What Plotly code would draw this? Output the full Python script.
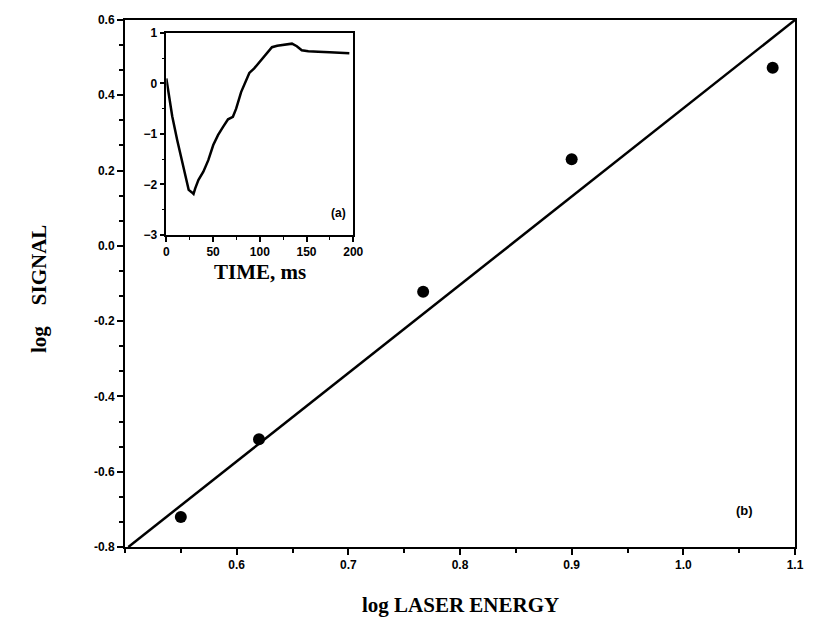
import plotly.graph_objects as go

# main panel (b) data
energy = [0.55, 0.62, 0.767, 0.90, 1.08]
signal = [-0.72, -0.514, -0.122, 0.23, 0.473]
fit_x = [0.503, 1.10]
fit_y = [-0.80, 0.60]

# inset (a) data
time_ms = [0, 2.8, 6.3, 11.6, 16.8, 22.1, 23.9, 27.4, 29.1, 30.9, 34.4, 39.6, 44.9,
           50.2, 55.4, 60.7, 66.0, 71.2, 74.7, 80.0, 83.5, 88.8, 94.0, 101, 108, 113,
           118.6, 125.6, 134.4, 139.6, 144.9, 151.9, 157, 162.5, 174.7, 185, 195.8]
trace_a = [0.10, -0.26, -0.65, -1.12, -1.52, -1.91, -2.11, -2.16, -2.19, -2.08, -1.91,
           -1.75, -1.52, -1.22, -1.02, -0.86, -0.71, -0.66, -0.50, -0.17, -0.03, 0.21,
           0.30, 0.45, 0.62, 0.72, 0.75, 0.77, 0.79, 0.74, 0.66, 0.64, 0.64, 0.63, 0.62,
           0.61, 0.60]

main_ticks_x = [0.6, 0.7, 0.8, 0.9, 1.0, 1.1]
main_labels_x = ["0.6", "0.7", "0.8", "0.9", "1.0", "1.1"]
main_ticks_y = [-0.8, -0.6, -0.4, -0.2, 0.0, 0.2, 0.4, 0.6]
main_labels_y = ["-0.8", "-0.6", "-0.4", "-0.2", "0.0", "0.2", "0.4", "0.6"]
inset_ticks_x = [0, 50, 100, 150, 200]
inset_ticks_y = [-3, -2, -1, 0, 1]

tickfont = dict(family="Liberation Sans", size=12, color="black", weight="bold")
serif = "Liberation Serif"

fig = go.Figure()
fig.add_trace(go.Scatter(x=fit_x, y=fit_y, mode="lines",
                         line=dict(color="black", width=2.5), showlegend=False))
fig.add_trace(go.Scatter(x=energy, y=signal, mode="markers",
                         marker=dict(color="black", size=12), showlegend=False))
fig.add_trace(go.Scatter(x=time_ms, y=trace_a, mode="lines", xaxis="x2", yaxis="y2",
                         line=dict(color="black", width=2.5), showlegend=False))

fig.update_layout(
    width=815, height=624,
    margin=dict(l=125, r=10, t=20, b=77),
    paper_bgcolor="white", plot_bgcolor="white",
    xaxis=dict(range=[0.5, 1.1], tickvals=main_ticks_x, ticktext=main_labels_x,
               ticks="outside", ticklen=6, tickwidth=2, tickcolor="black",
               minor=dict(dtick=0.05, tick0=0.5, ticks="outside", ticklen=4, tickwidth=1.5, tickcolor="black"),
               showline=True, linecolor="black", linewidth=2, mirror=True,
               showgrid=False, zeroline=False, tickfont=tickfont),
    yaxis=dict(range=[-0.8, 0.6], tickvals=main_ticks_y, ticktext=main_labels_y,
               ticks="outside", ticklen=6, tickwidth=2, tickcolor="black",
               minor=dict(dtick=0.2 / 3, tick0=-0.8, ticks="outside", ticklen=4, tickwidth=1.5, tickcolor="black"),
               showline=True, linecolor="black", linewidth=2, mirror=True,
               showgrid=False, zeroline=False, tickfont=tickfont),
    xaxis2=dict(domain=[0.0617, 0.3407], anchor="y2", range=[0, 200], tickvals=inset_ticks_x,
                ticks="outside", ticklen=5, tickwidth=1.5, tickcolor="black",
                minor=dict(dtick=25, ticks="outside", ticklen=3, tickwidth=1, tickcolor="black"),
                showline=True, linecolor="black", linewidth=1.5, mirror=True,
                showgrid=False, zeroline=False, tickfont=tickfont),
    yaxis2=dict(domain=[0.5925, 0.9752], anchor="x2", range=[-3, 1], tickvals=inset_ticks_y,
                ticks="outside", ticklen=5, tickwidth=1.5, tickcolor="black",
                minor=dict(dtick=0.5, ticks="outside", ticklen=3, tickwidth=1, tickcolor="black"),
                showline=True, linecolor="black", linewidth=1.5, mirror=True,
                showgrid=False, zeroline=False, tickfont=tickfont),
    annotations=[
        dict(text="<b>log LASER ENERGY</b>", xref="paper", yref="paper", x=0.5, y=-0.11,
             xanchor="center", yanchor="middle", showarrow=False,
             font=dict(family=serif, size=21, color="black")),
        dict(text="<b>log&nbsp;&nbsp;&nbsp; SIGNAL</b>", xref="paper", yref="paper", x=-0.128, y=0.49,
             xanchor="center", yanchor="middle", textangle=-90, showarrow=False,
             font=dict(family=serif, size=21, color="black")),
        dict(text="<b>TIME, ms</b>", xref="paper", yref="paper", x=0.201, y=0.521,
             xanchor="center", yanchor="middle", showarrow=False,
             font=dict(family=serif, size=21, color="black")),
        dict(text="<b>(a)</b>", xref="x2", yref="y2", x=184, y=-2.56, showarrow=False,
             xanchor="center", yanchor="middle",
             font=dict(family="Liberation Sans", size=12, color="black")),
        dict(text="<b>(b)</b>", xref="paper", yref="paper", x=0.925, y=0.07, showarrow=False,
             xanchor="center", yanchor="middle",
             font=dict(family="Liberation Sans", size=13, color="black")),
    ],
)

fig.write_html("out.html", config={"displayModeBar": False},
               post_script="document.body.style.margin='0';")
